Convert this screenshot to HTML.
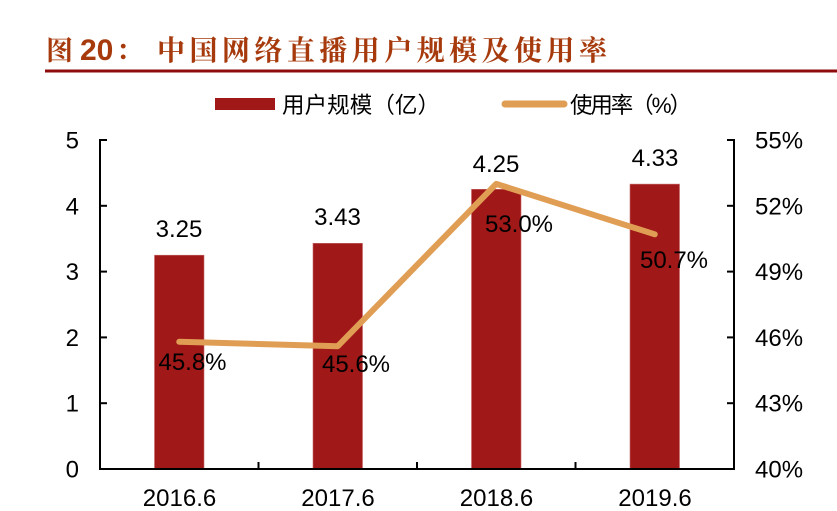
<!DOCTYPE html>
<html><head><meta charset="utf-8"><style>
html,body{margin:0;padding:0;background:#fff;}
svg{display:block;}
</style></head><body>
<svg width="837" height="511" viewBox="0 0 837 511" xmlns="http://www.w3.org/2000/svg">
<rect width="837" height="511" fill="#fff"/>
<!-- title -->
<g font-weight="bold" fill="#A63A0C">
<text x="46" y="60" font-family="'Noto Serif CJK SC','Liberation Serif',serif" font-size="27">图</text>
<text x="80" y="60" font-family="'Liberation Sans',sans-serif" font-size="30">20</text>
<text x="116" y="60" font-family="'Noto Serif CJK SC','Liberation Serif',serif" font-size="27">：</text>
<text x="157" y="60" font-family="'Noto Serif CJK SC','Liberation Serif',serif" font-size="28" textLength="450" lengthAdjust="spacing">中国网络直播用户规模及使用率</text>
</g>
<rect x="45" y="69.5" width="792" height="3" fill="#8E0C0C"/>
<!-- legend -->
<rect x="215" y="98" width="60" height="12" fill="#A01818"/>
<text x="282" y="113" font-family="'Liberation Sans','Noto Sans CJK SC',sans-serif" font-size="22.5" fill="#000" textLength="158" lengthAdjust="spacing">用户规模（亿）</text>
<line x1="505" y1="104" x2="564" y2="104" stroke="#E09E55" stroke-width="7" stroke-linecap="round"/>
<text x="570" y="113" font-family="'Liberation Sans','Noto Sans CJK SC',sans-serif" font-size="22.5" fill="#000" textLength="122" lengthAdjust="spacing">使用率（%）</text>
<!-- bars -->
<g fill="#A01818" stroke="#C86A6A" stroke-width="0.6">
<rect x="154.5" y="255.2" width="49.5" height="213.8"/>
<rect x="313" y="243.3" width="49.5" height="225.7"/>
<rect x="471.5" y="189.3" width="49.5" height="279.7"/>
<rect x="630" y="184.1" width="49.5" height="284.9"/>
</g>
<!-- axes -->
<g stroke="#000" stroke-width="2" fill="none">
<line x1="100" y1="139" x2="100" y2="470"/>
<line x1="734" y1="139" x2="734" y2="470"/>
<line x1="99" y1="469" x2="735" y2="469"/>
<line x1="100" y1="140" x2="107" y2="140"/>
<line x1="100" y1="205.8" x2="107" y2="205.8"/>
<line x1="100" y1="271.6" x2="107" y2="271.6"/>
<line x1="100" y1="337.4" x2="107" y2="337.4"/>
<line x1="100" y1="403.2" x2="107" y2="403.2"/>
<line x1="727" y1="140" x2="734" y2="140"/>
<line x1="727" y1="205.8" x2="734" y2="205.8"/>
<line x1="727" y1="271.6" x2="734" y2="271.6"/>
<line x1="727" y1="337.4" x2="734" y2="337.4"/>
<line x1="727" y1="403.2" x2="734" y2="403.2"/>
<line x1="258.5" y1="469" x2="258.5" y2="462"/>
<line x1="417" y1="469" x2="417" y2="462"/>
<line x1="575.5" y1="469" x2="575.5" y2="462"/>
</g>
<!-- line series -->
<polyline points="179.25,341.8 337.75,346.2 496.25,183.9 654.75,234.3" fill="none" stroke="#E09E55" stroke-width="6" stroke-linecap="round" stroke-linejoin="round"/>
<!-- tick labels -->
<g font-family="'Liberation Sans',sans-serif" font-size="24" fill="#000">
<g text-anchor="end">
<text x="79" y="148.5">5</text>
<text x="79" y="214.3">4</text>
<text x="79" y="280.1">3</text>
<text x="79" y="345.9">2</text>
<text x="79" y="411.7">1</text>
<text x="79" y="477.5">0</text>
</g>
<g text-anchor="start">
<text x="755" y="148.5">55%</text>
<text x="755" y="214.3">52%</text>
<text x="755" y="280.1">49%</text>
<text x="755" y="345.9">46%</text>
<text x="755" y="411.7">43%</text>
<text x="755" y="477.5">40%</text>
</g>
<g text-anchor="middle">
<text x="179.5" y="506">2016.6</text>
<text x="338" y="506">2017.6</text>
<text x="496.5" y="506">2018.6</text>
<text x="655" y="506">2019.6</text>
<!-- bar labels -->
<text x="179" y="237">3.25</text>
<text x="337.5" y="225">3.43</text>
<text x="496" y="172">4.25</text>
<text x="655" y="166">4.33</text>
<!-- line labels -->
<text x="192.5" y="370">45.8%</text>
<text x="356" y="372">45.6%</text>
<text x="519" y="232">53.0%</text>
<text x="674" y="268">50.7%</text>
</g>
</g>
</svg>
</body></html>
